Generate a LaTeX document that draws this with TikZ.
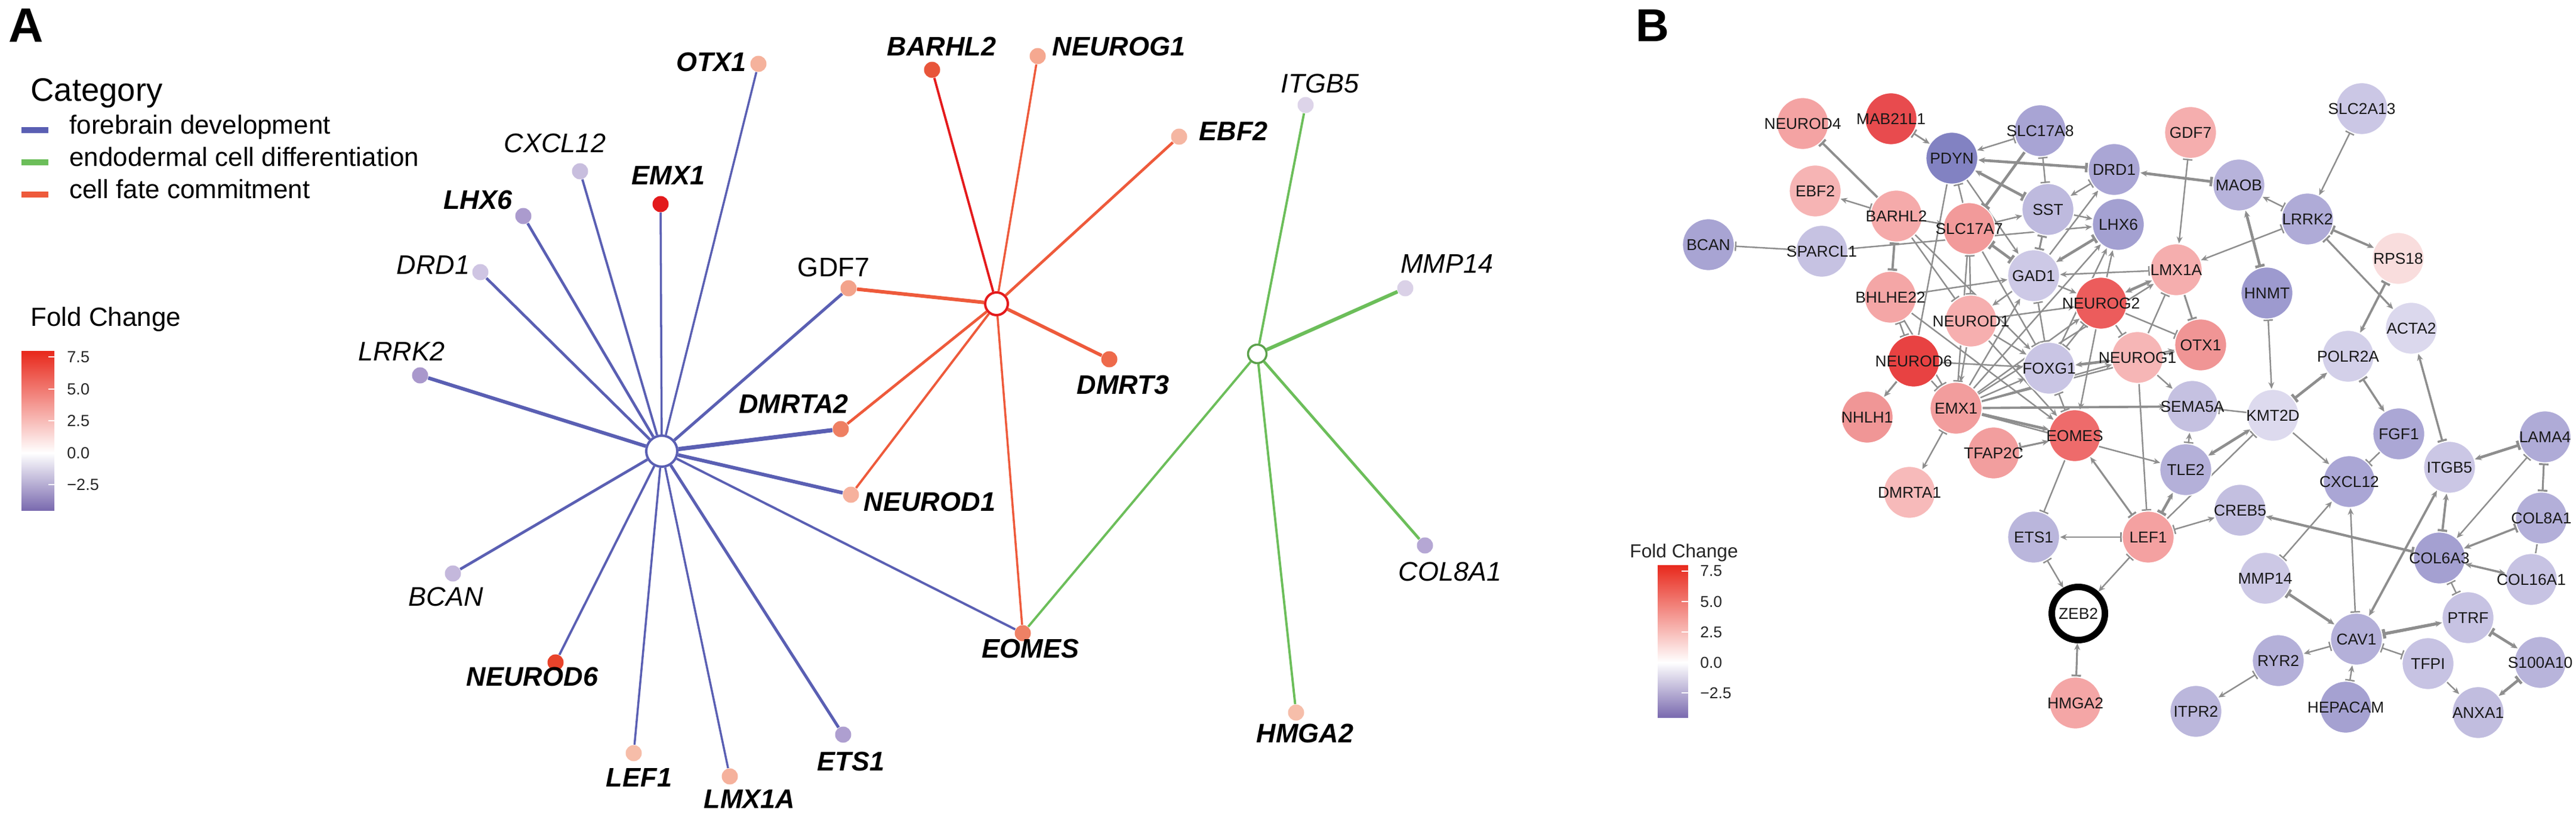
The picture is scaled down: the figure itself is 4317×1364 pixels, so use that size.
\documentclass[tikz,border=0pt]{standalone}
\usepackage{fontspec}
\setmainfont{Liberation Sans}
\usetikzlibrary{arrows.meta}

\definecolor{fbblue}{HTML}{5A5FB3}
\definecolor{endgreen}{HTML}{6CBE5A}
\definecolor{cfred}{HTML}{EE5A3B}
\definecolor{hubred}{HTML}{E41A1C}
\definecolor{fcred}{HTML}{E8291C}
\definecolor{fcpurple}{HTML}{7A6AAF}
\definecolor{edgegray}{HTML}{8E8E8E}

\pgfdeclarelayer{edges}
\pgfsetlayers{edges,main}

\tikzset{
  Ar/.tip={Stealth[length=3.2pt,width=2.8pt]},
  Tb/.tip={Bar[width=4.5pt]},
  eA/.style={-Ar}, eT/.style={-Tb}, eAT/.style={Ar-Tb},
  eTA/.style={Tb-Ar}, eAA/.style={Ar-Ar}, eTT/.style={Tb-Tb}, eN/.style={},
  dotA/.style={circle,fill=#1,inner sep=0pt,minimum size=0.27cm},
  itl/.style={font=\fontsize{12.8}{15}\selectfont\itshape},
  bit/.style={font=\fontsize{12.8}{15}\selectfont\bfseries\itshape},
  up/.style={font=\fontsize{12.8}{15}\selectfont},
  gB/.style={circle,fill=#1,draw=white,line width=0.5pt,inner sep=0pt,minimum size=0.87cm},
  lbB/.style={font=\fontsize{7.5}{9}\selectfont,text=black!90},
  ed/.style={draw=edgegray},
  leg/.style={font=\fontsize{12.5}{15}\selectfont,anchor=base west},
  tick/.style={font=\fontsize{7.7}{9}\selectfont,anchor=west,text=black!85},
}

\begin{document}
\begin{tikzpicture}[x=0.01cm,y=-0.01cm]
\useasboundingbox (0,0) rectangle (4317,1364);

% ---------- panel A ----------
\node[font=\fontsize{23}{26}\selectfont\bfseries,anchor=base west,inner sep=0pt] (pA) at (14,71) {A};

% legend
\node[font=\fontsize{15.5}{18}\selectfont,anchor=base west] (cat) at (39,170) {Category};
\draw[fbblue,line width=0.1cm] (36,218) -- (81,218);
\draw[endgreen,line width=0.1cm] (36,272) -- (81,272);
\draw[cfred,line width=0.1cm] (36,326) -- (81,326);
\node[leg] (l1) at (104,225) {forebrain development};
\node[leg] (l2) at (104,279) {endodermal cell differentiation};
\node[leg] (l3) at (104,333) {cell fate commitment};

\node[leg] (fcA) at (39,547) {Fold Change};
\shade[top color=fcred,bottom color=white] (36,589) rectangle (91,759);
\shade[top color=white,bottom color=fcpurple] (36,759) rectangle (91,855);
\foreach \y/\v in {598/7.5,652/5.0,705/2.5,759/0.0,812/−2.5}{
  \draw[white,line width=0.7pt] (81,\y) -- (91,\y);
  \node[tick] at (100,\y) {\v};
}

% hubs
\node[circle,draw=fbblue,fill=white,line width=1.15pt,inner sep=0pt,minimum size=0.52cm] (hubF) at (1109,756) {};
\node[circle,draw=hubred,fill=white,line width=1.15pt,inner sep=0pt,minimum size=0.38cm] (hubC) at (1670,509) {};
\node[circle,draw=endgreen!85!black,fill=white,line width=1pt,inner sep=0pt,minimum size=0.31cm] (hubE) at (2107,593) {};

% genes
\foreach \n/\x/\y/\c in {aotx/1271/107/F5B29C, abar/1562/117/E8553A, ang1/1739/94/F5A890,
  aebf/1976/229/F5B6A2, aitg/2188/176/DDD4E9, aemx/1107/342/E31A1C, acxc/972/287/C8BEDE,
  alhx/877/362/AB9BCE, adrd/805/456/CFC5E3, alrrk/704/629/A998CC, agdf/1422/483/F3A38B,
  ammp/2355/483/DAD1E7, admrt/1859/602/EE6A4B, adm2/1409/719/EE7F62, and1/1426/829/F6B19D,
  aeom/1714/1061/EE8165, ahmg/2172/1194/F6BEAA, acol/2388/914/B5A7D4, abcan/759/961/C4B8DC,
  and6/931/1110/E8432B, alef/1062/1262/F6BDA9, almx/1223/1301/F5B19C, aets/1413/1231/AE9FD0}{
  \definecolor{c\n}{HTML}{\c}
  \node[dotA=c\n] (\n) at (\x,\y) {};
}

\foreach \x/\y/\s/\t in {1192/104/bit/OTX1, 1578/78/bit/BARHL2, 1875/78/bit/NEUROG1,
  2212/140/itl/ITGB5, 2067/220/bit/EBF2, 1120/294/bit/EMX1, 930/240/itl/CXCL12,
  801/335/bit/LHX6, 726/444/itl/DRD1, 673/589/itl/LRRK2, 1397/448/up/GDF7,
  2425/442/itl/MMP14, 1882/645/bit/DMRT3, 1330/677/bit/DMRTA2, 1558/841/bit/NEUROD1,
  2430/958/itl/COL8A1, 747/1000/itl/BCAN, 892/1134/bit/NEUROD6, 1727/1087/bit/EOMES,
  2187/1229/bit/HMGA2, 1426/1276/bit/ETS1, 1071/1303/bit/LEF1, 1256/1339/bit/LMX1A}
  \node[\s] at (\x,\y) {\t};

\begin{pgfonlayer}{edges}
\foreach \n/\w in {aotx/1pt, aemx/1pt, acxc/1.1pt, alhx/1.3pt, adrd/1.3pt, alrrk/1.7pt,
  abcan/1.3pt, and6/1.1pt, alef/1pt, almx/1pt, aets/1.4pt, aeom/1.1pt, and1/1.7pt,
  adm2/2pt, agdf/1.4pt}
  \draw[fbblue,line width=\w] (hubF) -- (\n);
\draw[hubred,line width=1.1pt] (hubC) -- (abar);
\foreach \n/\w in {ang1/1pt, aebf/1.3pt, agdf/1.7pt, admrt/1.6pt, adm2/1.3pt, and1/1.1pt, aeom/1pt}
  \draw[cfred,line width=\w] (hubC) -- (\n);
\foreach \n/\w in {aitg/1.1pt, ammp/1.7pt, acol/1.3pt, ahmg/1.1pt, aeom/1.1pt}
  \draw[endgreen,line width=\w] (hubE) -- (\n);
\end{pgfonlayer}

% ---------- panel B ----------
\node[font=\fontsize{22}{26}\selectfont\bfseries,anchor=base west,inner sep=0pt] (pB) at (2741,70) {B};

\node[font=\fontsize{9}{11}\selectfont,anchor=base west,text=black!85] (fcB) at (2719,934) {Fold Change};
\shade[top color=fcred,bottom color=white] (2778,947) rectangle (2829,1110);
\shade[top color=white,bottom color=fcpurple] (2778,1110) rectangle (2829,1202);
\foreach \y/\v in {957/7.5,1008/5.0,1059/2.5,1110/0.0,1161/−2.5}{
  \draw[white,line width=0.6pt] (2818,\y) -- (2829,\y);
  \node[tick,font=\fontsize{7.5}{9}\selectfont] at (2837,\y) {\v};
}

\foreach \n/\x/\y/\c/\lab in {n4/3021/207/F4A3A3/NEUROD4, mab/3169/199/E84B4E/MAB21L1,
  pdyn/3271/265/8282C2/PDYN, s8/3419/219/A8A4D4/SLC17A8, drd/3543/284/AAA6D5/DRD1,
  ebf/3042/320/F6B4B4/EBF2, bar/3178/362/F5AAAA/BARHL2, sst/3432/351/BEBADE/SST,
  lhx/3550/376/A3A0D1/LHX6, s7/3300/383/F29A9A/SLC17A7, spa/3053/421/C6C2E2/SPARCL1,
  gad/3408/462/CDC9E6/GAD1, bhl/3168/498/F4A6A6/BHLHE22, nd1/3303/538/F6AFAF/NEUROD1,
  ng2/3521/508/EC5C5C/NEUROG2, nd6/3207/605/E84242/NEUROD6, fox/3434/617/C9C5E4/FOXG1,
  ng1/3582/599/F6B6B6/NEUROG1, emx/3278/684/F29D9D/EMX1, nhl/3129/699/F09696/NHLH1,
  lmx/3647/452/F5AEAE/LMX1A, otx/3688/578/F09595/OTX1, gdf/3671/222/F5AEAE/GDF7,
  maob/3752/310/B7B3DB/MAOB, lrrk/3867/367/AFABD7/LRRK2, s13/3958/182/CBC7E5/SLC2A13,
  rps/4019/433/F9DDDD/RPS18, hnmt/3799/491/9D9ACF/HNMT, acta/4041/550/DBD8ED/ACTA2,
  pol/3935/597/D3D0E9/POLR2A, sema/3674/681/C5C1E1/SEMA5A, kmt/3809/696/DDDAEE/KMT2D,
  eom/3477/730/EE6B6B/EOMES, tfap/3341/759/F29E9E/TFAP2C, dmr/3200/825/F7BABA/DMRTA1,
  ets/3408/900/BAB6DC/ETS1, lef/3600/900/F4A1A1/LEF1, hmg/3478/1178/F4A6A6/HMGA2,
  tle/3663/787/B4B0D9/TLE2, creb/3754/855/C3BFE0/CREB5, fgf/4020/727/ABA7D5/FGF1,
  cxc/3937/807/AAA6D5/CXCL12, itg/4105/783/CBC7E5/ITGB5, lama/4265/732/AFABD7/LAMA4,
  col8/4259/868/B3AFD9/COL8A1, col6/4088/935/A4A0D1/COL6A3, col16/4242/971/C7C3E3/COL16A1,
  mmp/3796/969/CCC8E5/MMP14, ptrf/4136/1035/C7C3E3/PTRF, cav/3949/1071/B4B0D9/CAV1,
  ryr/3818/1107/B4B0D9/RYR2, tfpi/4069/1112/C7C3E3/TFPI, s100/4257/1110/B8B4DB/S100A10,
  itpr/3680/1192/BBB7DC/ITPR2, hep/3931/1185/A5A1D1/HEPACAM, anx/4153/1194/C1BDDF/ANXA1,
  bcan/2863/410/A8A4D3/BCAN}{
  \definecolor{c\n}{HTML}{\c}
  \node[gB=c\n,label={[lbB]center:\lab}] (\n) at (\x,\y) {};
}
\node[circle,draw=black,line width=3.1pt,fill=white,inner sep=0pt,minimum size=0.89cm,lbB] (zeb) at (3483,1028) {ZEB2};

\begin{pgfonlayer}{edges}
\foreach \a/\b/\s/\w in {bar/n4/eT/1.1pt, bar/ebf/eTA/0.7pt, spa/bcan/eT/0.7pt, spa/lhx/eA/0.7pt,
  pdyn/mab/eAT/0.8pt, s8/pdyn/eTA/0.7pt, drd/pdyn/eTA/1.3pt, pdyn/sst/eAT/1.3pt, s8/sst/eTT/0.7pt,
  s8/s7/eT/1.3pt, s7/pdyn/eT/0.7pt, pdyn/gad/eA/0.7pt, pdyn/nd6/eN/0.7pt, sst/drd/eAT/0.7pt,
  sst/lhx/eA/0.7pt, s7/sst/eA/0.7pt, gad/sst/eTT/0.9pt, maob/drd/eTA/1.3pt, gad/drd/eA/0.7pt,
  gad/lhx/eAT/1.3pt, ng2/lhx/eA/0.7pt, fox/lhx/eA/0.7pt, emx/lhx/eA/0.7pt, lmx/gad/eTA/0.7pt,
  bhl/gad/eA/0.7pt, gad/ng2/eA/0.7pt, gad/fox/eTT/0.7pt, emx/gad/eA/0.7pt, gad/s7/eTT/1.3pt,
  gad/nd1/eA/0.7pt, bar/bhl/eTT/1.1pt, bar/nd1/eT/0.7pt, bar/s7/eA/0.7pt, bar/fox/eA/0.7pt,
  bhl/nd6/eTT/0.7pt, bhl/emx/eT/0.7pt, bhl/eom/eA/0.7pt, nd6/nhl/eA/0.9pt, nd6/fox/eA/0.7pt,
  nd6/emx/eT/0.7pt, nd1/ng2/eA/0.7pt, nd1/emx/eA/0.7pt, nd1/fox/eA/0.7pt, nd1/eom/eA/0.7pt,
  s7/nd1/eTT/0.7pt, s7/fox/eT/0.7pt, s7/emx/eT/0.7pt, ng2/lmx/eAA/1.3pt, ng2/otx/eT/0.7pt,
  ng2/fox/eTT/0.7pt, ng2/ng1/eT/0.7pt, ng2/eom/eA/0.7pt, emx/ng2/eA/0.7pt, fox/ng1/eAA/1.3pt,
  emx/fox/eA/0.7pt, fox/eom/eTT/0.7pt, ng1/otx/eA/0.7pt, ng1/sema/eA/0.7pt, ng1/lmx/eT/0.7pt,
  emx/ng1/eA/0.7pt, lmx/otx/eT/0.9pt, lrrk/lmx/eTA/0.7pt, gdf/lmx/eTA/0.7pt, emx/lmx/eA/0.7pt,
  emx/otx/eA/0.7pt, emx/sema/eA/1.1pt, emx/eom/eA/1.3pt, emx/tle/eA/0.7pt, dmr/emx/eAT/0.7pt,
  tfap/eom/eTA/0.9pt, eom/ets/eT/0.7pt, eom/lef/eAT/0.9pt, lef/ets/eTA/0.7pt, lef/zeb/eTA/0.7pt,
  ets/zeb/eTA/0.7pt, hmg/zeb/eTA/0.9pt, lef/tle/eTA/1.3pt, lef/kmt/eT/0.7pt, lef/creb/eTA/0.7pt,
  ng1/lef/eT/0.7pt, tle/sema/eTA/0.7pt, tle/kmt/eAA/1.3pt, kmt/sema/eT/0.7pt, kmt/hnmt/eAT/0.7pt,
  kmt/pol/eTA/1.3pt, kmt/cxc/eA/0.7pt, hnmt/maob/eTA/1.3pt, maob/lrrk/eAT/0.7pt,
  s13/lrrk/eTA/0.7pt, lrrk/rps/eTA/1.1pt, lrrk/acta/eTA/0.9pt, rps/pol/eTA/1.1pt,
  pol/fgf/eTA/1pt, acta/itg/eAT/1pt, fgf/cxc/eT/0.7pt, cxc/mmp/eAT/0.7pt, cxc/cav/eAT/0.7pt,
  itg/lama/eAT/1.3pt, itg/col6/eAT/1.1pt, itg/cav/eAA/1.1pt, lama/col8/eTT/0.9pt,
  lama/col6/eTA/0.7pt, col8/col6/eTA/1pt, col8/col16/eN/0.7pt, col6/col16/eAA/1pt,
  col6/creb/eTA/1.2pt, col6/ptrf/eTT/0.7pt, ptrf/cav/eAT/1.5pt, ptrf/s100/eTA/1.3pt,
  cav/mmp/eAT/1.3pt, cav/ryr/eTA/0.7pt, cav/tfpi/eTT/0.7pt, cav/hep/eAT/0.7pt,
  ryr/itpr/eTA/0.7pt, tfpi/anx/eA/0.7pt, anx/s100/eAT/1.3pt}
  \draw[ed,\s,line width=\w] (\a) -- (\b);
\end{pgfonlayer}
\end{tikzpicture}
\end{document}
